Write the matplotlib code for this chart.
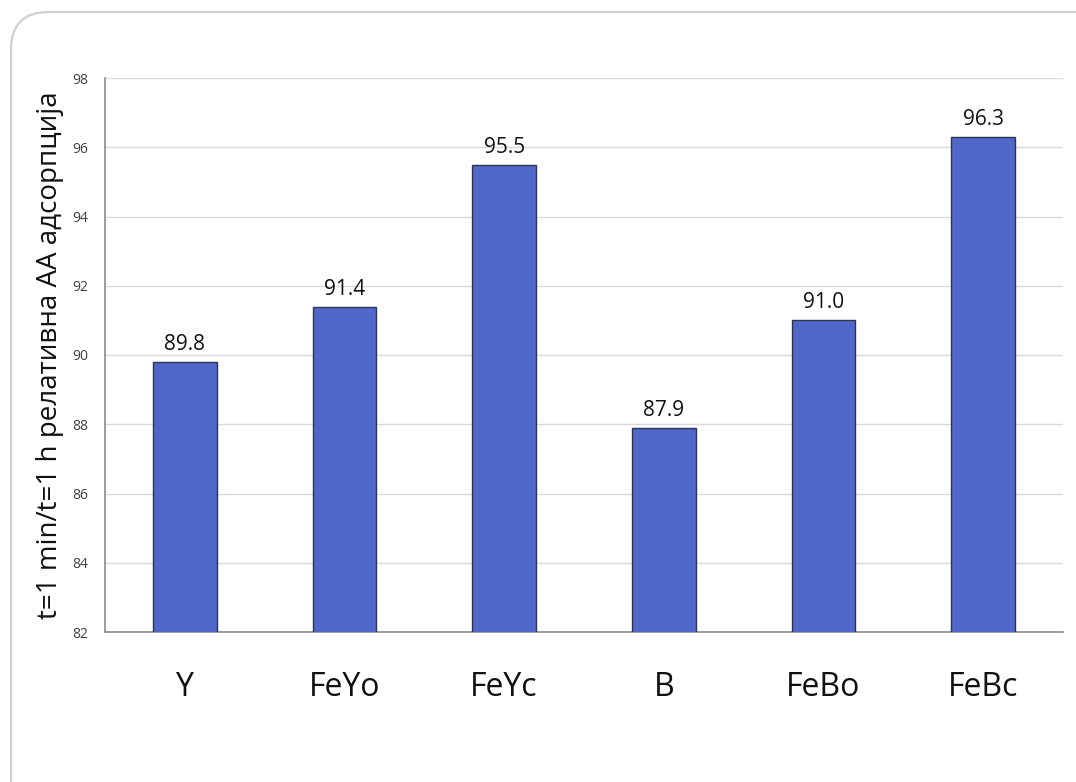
import matplotlib
matplotlib.use("Agg")
import matplotlib.pyplot as plt
from matplotlib.patches import FancyBboxPatch

plt.rcParams['font.family'] = ['Open Sans', 'DejaVu Sans']

samples = ['Y', 'FeYo', 'FeYc', 'B', 'FeBo', 'FeBc']
ratio = [89.8, 91.4, 95.5, 87.9, 91.0, 96.3]
yticks = [82, 84, 86, 88, 90, 92, 94, 96, 98]

fig = plt.figure(figsize=(10.76, 7.82), dpi=100)

# card outline behind the chart
card = FancyBboxPatch((11 / 1076, -0.2), 1.2, 1 - 12 / 782 + 0.2,
                      boxstyle="round,pad=0,rounding_size=0.035",
                      transform=fig.transFigure, facecolor='white',
                      edgecolor='#cfcfcf', linewidth=1.6, zorder=-5,
                      mutation_aspect=1076 / 782)
fig.patches.append(card)

ax = fig.add_axes([105 / 1076, 1 - 632 / 782, (1063 - 105) / 1076, (632 - 78) / 782])
ax.set_facecolor('none')
ax.set_zorder(2)

x = range(len(samples))
bars = ax.bar(x, ratio, width=0.4, color='#4f67c9',
              edgecolor='#2b3550', linewidth=1.0, zorder=3)
for xi, v in zip(x, ratio):
    ax.annotate('{:.1f}'.format(v), (xi, v), xytext=(0, 5),
                textcoords='offset points', ha='center', va='bottom',
                fontsize=15, color='#111111')

ax.set_ylim(82, 98)
ax.set_xlim(-0.5, len(samples) - 0.5)
ax.set_yticks(yticks)
ax.set_yticklabels([str(t) for t in yticks], fontsize=10, color='#404040')
ax.set_xticks(list(x))
ax.set_xticklabels(samples, fontsize=23, color='#111111')
ax.tick_params(axis='x', length=0, pad=28)
ax.tick_params(axis='y', length=0, pad=12)

ax.grid(axis='y', color='#d9d9d9', linewidth=1.0, zorder=0)
ax.set_axisbelow(True)
for s in ['top', 'right']:
    ax.spines[s].set_visible(False)
ax.spines['left'].set_color('#8c8c8c')
ax.spines['bottom'].set_color('#8c8c8c')
ax.spines['left'].set_linewidth(1.2)
ax.spines['bottom'].set_linewidth(1.2)

ax.set_ylabel('t=1 min/t=1 h релативна АА адсорпција', fontsize=20,
              color='#111111', labelpad=6)

fig.savefig('out.png', dpi=100)
